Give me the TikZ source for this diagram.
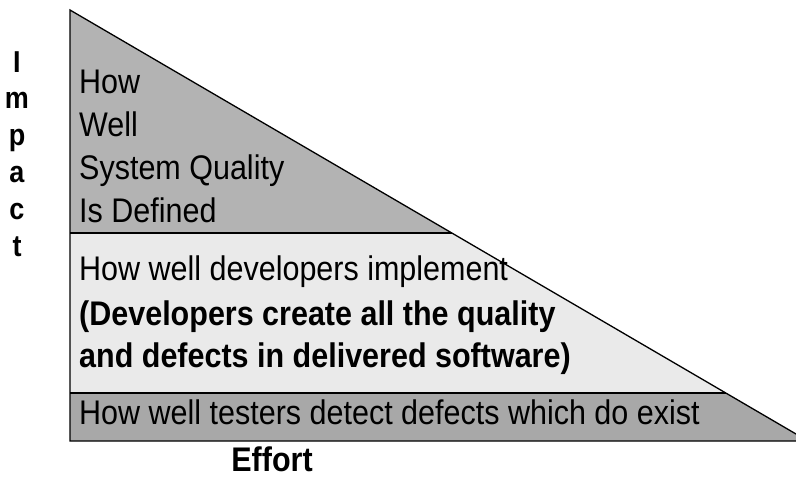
\documentclass[tikz,border=0pt]{standalone}
\usepackage{fontspec}
\setmainfont{Liberation Sans}
\definecolor{topgray}{RGB}{179,179,179}
\definecolor{midgray}{RGB}{234,234,234}
\definecolor{botgray}{RGB}{168,168,168}
\newcommand{\tall}[1]{\scalebox{1}[1.12]{#1}}
\begin{document}
\begin{tikzpicture}[x=1pt,y=-1pt,
  band/.style={draw=black,line width=1.3pt,line join=miter},
  txt/.style={anchor=base west,inner sep=0pt,font=\fontsize{30.5}{36}\selectfont},
  btxt/.style={txt,font=\fontsize{30.5}{36}\selectfont\bfseries},
  axis/.style={anchor=base,inner sep=0pt,font=\fontsize{27}{30}\selectfont\bfseries}]
\clip (0,0) rectangle (796,477);
\coordinate (A) at (70,10);
\coordinate (P1) at (452,233);
\coordinate (Q1) at (70,233);
\coordinate (P2) at (726,393);
\coordinate (Q2) at (70,393);
\coordinate (C) at (808,441);
\coordinate (B) at (70,441);
\fill[topgray] (A) -- (P1) -- (Q1) -- cycle;
\fill[midgray] (Q1) -- (P1) -- (P2) -- (Q2) -- cycle;
\fill[botgray] (Q2) -- (P2) -- (C) -- (B) -- cycle;
\draw[band] (A) -- (C) -- (B) -- cycle;
\draw[band] (Q1) -- (P1);
\draw[band] (Q2) -- (P2);
% top band text
\node[txt] (t1) at (79,93) {\tall{How}};
\node[txt] (t2) at (79,136) {\tall{Well}};
\node[txt] (t3) at (79,179) {\tall{System Quality}};
\node[txt] (t4) at (79,222) {\tall{Is Defined}};
% middle band text
\node[txt] (m1) at (79,280) {\tall{How well developers implement}};
\node[btxt] (m2) at (79,325) {\tall{(Developers create all the quality}};
\node[btxt] (m3) at (79,367) {\tall{and defects in delivered software)}};
% bottom band text
\node[txt] (b1) at (79,424) {\tall{How well testers detect defects which do exist}};
% axis labels
\node[axis] (i1) at (17,72) {\tall{I}};
\node[axis] (i2) at (17,108) {\tall{m}};
\node[axis] (i3) at (17,145) {\tall{p}};
\node[axis] (i4) at (17,182) {\tall{a}};
\node[axis] (i5) at (17,219) {\tall{c}};
\node[axis] (i6) at (17,256) {\tall{t}};
\node[anchor=base,inner sep=0pt,font=\fontsize{30.5}{36}\selectfont\bfseries] (eff) at (272,471) {\tall{Effort}};
\end{tikzpicture}
\end{document}
